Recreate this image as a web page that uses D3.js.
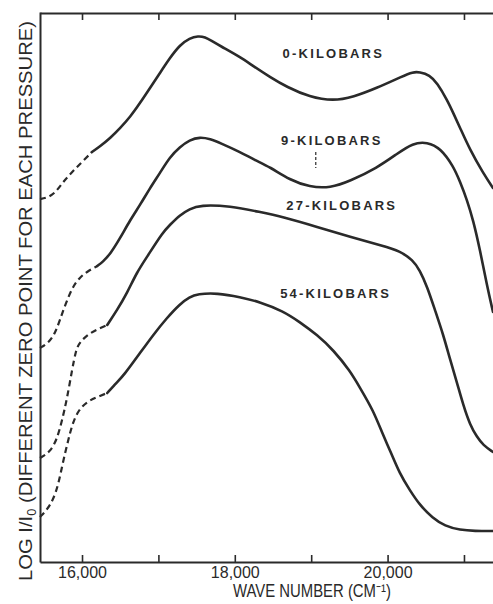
<html>
<head>
<title>Absorption vs pressure</title>
<style>
body { margin: 0; background-color: #ffffff; }
text { fill: #2a2a2a; }
</style>
<script src="https://d3js.org/d3.v7.min.js"></script>
</head>
<body>
<div id="chart"></div>
<script type="text/javascript">
// wave numbers (cm-1) and log I/I0 (arbitrary offset for each pressure)
var kb0DashX = [15450, 15540, 15650, 15750, 15870, 16000, 16130];
var kb0DashY = [3.63, 3.64, 3.69, 3.80, 3.90, 4.00, 4.10];
var kb0X = [16130, 16240, 16370, 16500, 16630, 16760, 16890, 17020, 17150, 17280, 17410, 17520, 17610, 17700, 17810, 18070, 18240, 18460, 18680, 18980, 19290, 19550, 19860, 20200, 20330, 20420, 20550, 20650, 20780, 20860, 20950, 21080, 21250, 21380];
var kb0Y = [4.10, 4.16, 4.24, 4.34, 4.45, 4.59, 4.74, 4.89, 5.04, 5.17, 5.24, 5.26, 5.25, 5.21, 5.16, 5.05, 4.96, 4.85, 4.75, 4.65, 4.61, 4.65, 4.74, 4.86, 4.90, 4.90, 4.87, 4.79, 4.62, 4.49, 4.34, 4.12, 3.89, 3.74];

var kb9DashX = [15450, 15560, 15650, 15710, 15780, 15870, 15970, 16100, 16200];
var kb9DashY = [2.14, 2.19, 2.29, 2.42, 2.57, 2.74, 2.85, 2.92, 2.96];
var kb9X = [16200, 16270, 16370, 16500, 16630, 16760, 16890, 17020, 17150, 17280, 17410, 17540, 17680, 17810, 18070, 18260, 18460, 18720, 18980, 19250, 19510, 19860, 20120, 20330, 20520, 20690, 20860, 20950, 21040, 21120, 21210, 21300, 21380];
var kb9Y = [2.96, 3.00, 3.08, 3.24, 3.42, 3.57, 3.74, 3.89, 4.05, 4.15, 4.22, 4.25, 4.23, 4.19, 4.10, 4.02, 3.95, 3.82, 3.75, 3.74, 3.81, 3.94, 4.08, 4.19, 4.20, 4.14, 3.96, 3.80, 3.62, 3.42, 3.12, 2.77, 2.50];

var kb27DashX = [15450, 15580, 15670, 15740, 15800, 15870, 15920, 15970, 16100, 16240, 16330];
var kb27DashY = [1.04, 1.10, 1.22, 1.42, 1.62, 1.92, 2.12, 2.20, 2.29, 2.34, 2.37];
var kb27X = [16330, 16460, 16590, 16720, 16850, 17060, 17150, 17280, 17410, 17540, 17940, 18330, 18630, 19080, 19510, 19940, 20160, 20330, 20420, 20520, 20620, 20730, 20820, 20910, 20990, 21080, 21170, 21250, 21380];
var kb27Y = [2.37, 2.52, 2.69, 2.90, 3.05, 3.30, 3.37, 3.47, 3.53, 3.57, 3.56, 3.50, 3.45, 3.35, 3.25, 3.16, 3.11, 3.02, 2.92, 2.75, 2.52, 2.27, 2.02, 1.79, 1.57, 1.37, 1.25, 1.17, 1.10];

var kb54DashX = [15450, 15540, 15620, 15690, 15750, 15820, 15870, 15950, 16080, 16200, 16330];
var kb54DashY = [0.45, 0.52, 0.62, 0.77, 1.00, 1.22, 1.37, 1.52, 1.61, 1.65, 1.69];
var kb54X = [16330, 16460, 16540, 16760, 16930, 17110, 17280, 17410, 17510, 17770, 18070, 18330, 18630, 18850, 19080, 19290, 19510, 19640, 19810, 19940, 20030, 20160, 20290, 20420, 20590, 20750, 20950, 21140, 21380];
var kb54Y = [1.69, 1.80, 1.86, 2.09, 2.27, 2.44, 2.58, 2.65, 2.68, 2.69, 2.65, 2.60, 2.51, 2.40, 2.27, 2.12, 1.91, 1.74, 1.52, 1.27, 1.12, 0.88, 0.72, 0.57, 0.44, 0.36, 0.32, 0.31, 0.31];

var labelText = ["0-KILOBARS", "9-KILOBARS", "27-KILOBARS", "54-KILOBARS"];
var labelX = [19290, 19270, 19400, 19320];
var labelY = [5.04, 4.17, 3.52, 2.64];

var xTicks = [16000, 17000, 18000, 19000, 20000, 21000];
var xTickLabels = [16000, 18000, 20000];

var W = 493, H = 604;
var padL = 40, padR = 493, padT = 13, padB = 562;

var svg = d3.select("#chart").append("svg")
    .attr("width", W)
    .attr("height", H);

var x = d3.scaleLinear().domain([15450, 21380]).range([padL, padR]);
var y = d3.scaleLinear().domain([0, 5.5]).range([padB, padT - 1]);

var ink = "#2a2a2a";

// frame / axes
var xb = svg.append("g")
    .attr("transform", "translate(0," + padB + ")")
    .call(d3.axisBottom(x)
        .tickValues(xTicks)
        .tickSizeInner(-7)
        .tickSizeOuter(0)
        .tickPadding(5)
        .tickFormat(function(d) { return xTickLabels.indexOf(d) >= 0 ? d3.format(",")(d) : ""; }));
xb.selectAll("text")
    .attr("font-family", "Liberation Sans, Arial, sans-serif")
    .attr("font-size", "16px")
    .attr("fill", ink);

var xt = svg.append("g")
    .attr("transform", "translate(0," + padT + ")")
    .call(d3.axisTop(x).tickValues(xTicks).tickSizeInner(-7).tickSizeOuter(0).tickFormat(""));

var yl = svg.append("g")
    .attr("transform", "translate(" + padL + ",0)")
    .call(d3.axisLeft(y).tickValues([]).tickSizeOuter(0));

svg.selectAll(".domain").attr("stroke", ink).attr("stroke-width", 2);
svg.selectAll(".tick line").attr("stroke", ink).attr("stroke-width", 1.6);

// curves (smoothed through the traced points)
var line = d3.line()
    .x(function(d) { return x(d[0]); })
    .y(function(d) { return y(d[1]); })
    .curve(d3.curveBasis);

function pairs(xs, ys) { return xs.map(function(v, i) { return [v, ys[i]]; }); }

var series = [
    [kb0DashX, kb0DashY, kb0X, kb0Y],
    [kb9DashX, kb9DashY, kb9X, kb9Y],
    [kb27DashX, kb27DashY, kb27X, kb27Y],
    [kb54DashX, kb54DashY, kb54X, kb54Y]
];

series.forEach(function(s) {
    svg.append("path")
        .attr("d", line(pairs(s[0], s[1])))
        .attr("fill", "none")
        .attr("stroke", ink)
        .attr("stroke-width", 2.2)
        .attr("stroke-dasharray", "6,4");
    svg.append("path")
        .attr("d", line(pairs(s[2], s[3])))
        .attr("fill", "none")
        .attr("stroke", ink)
        .attr("stroke-width", 2.6)
        .attr("stroke-linecap", "round");
});

// curve labels
labelText.forEach(function(t, i) {
    svg.append("text")
        .attr("x", x(labelX[i]))
        .attr("y", y(labelY[i]))
        .attr("text-anchor", "middle")
        .attr("font-family", "Liberation Sans, Arial, sans-serif")
        .attr("font-weight", "bold")
        .attr("font-size", "13px")
        .attr("letter-spacing", "2.2px")
        .text(t);
});

// small mark under 9-KILOBARS
svg.append("line")
    .attr("x1", x(19060)).attr("x2", x(19060))
    .attr("y1", y(4.10)).attr("y2", y(3.94))
    .attr("stroke", ink)
    .attr("stroke-width", 1.2)
    .attr("stroke-dasharray", "3,2");

// axis titles
svg.append("text")
    .attr("x", 312)
    .attr("y", 597)
    .attr("text-anchor", "middle")
    .attr("font-family", "Liberation Sans, Arial, sans-serif")
    .attr("font-size", "17.5px")
    .attr("textLength", 158)
    .attr("lengthAdjust", "spacingAndGlyphs")
    .text("WAVE NUMBER (CM\u207B\u00B9)");

var yTitle = svg.append("text")
    .attr("transform", "translate(32,301) rotate(-90)")
    .attr("text-anchor", "middle")
    .attr("font-family", "Liberation Sans, Arial, sans-serif")
    .attr("font-size", "19px")
    .attr("textLength", 560)
    .attr("lengthAdjust", "spacingAndGlyphs");
yTitle.append("tspan").text("LOG I/I");
yTitle.append("tspan").attr("font-size", "12px").attr("dy", "4").text("0");
yTitle.append("tspan").attr("dy", "-4").text(" (DIFFERENT ZERO POINT FOR EACH PRESSURE)");
</script>
</body>
</html>
